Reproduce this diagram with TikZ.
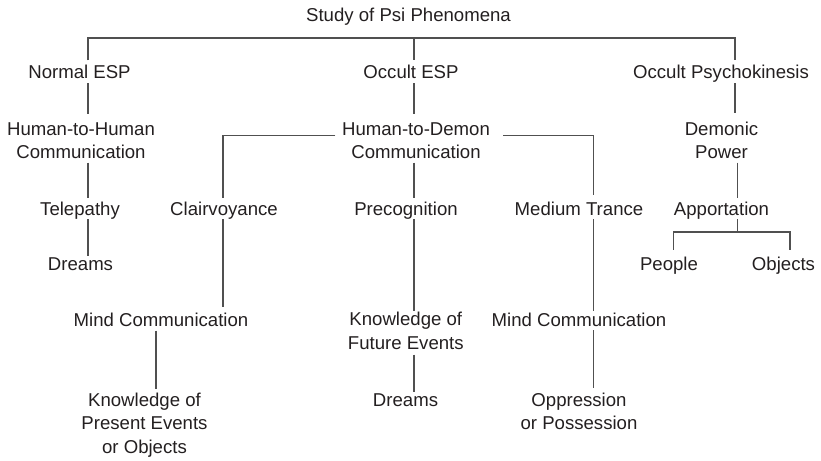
\documentclass[tikz,border=0pt]{standalone}
\usepackage{fontspec}
\setmainfont{Liberation Sans}
\usetikzlibrary{calc}
\definecolor{txt}{HTML}{231F20}
\definecolor{ln}{HTML}{505050}
\begin{document}
\begin{tikzpicture}[x=1pt,y=-1pt,
  lbl/.style={anchor=base, align=center, font=\fontsize{18.6}{23.5}\selectfont,
    text=txt, inner xsep=0pt, inner ysep=0pt, text depth=4pt},
  con/.style={draw=ln, line width=1.1pt}]
\useasboundingbox (0,0) rectangle (821,460);
% nodes (anchor = baseline of the last line)
\node[lbl] (title)   at (408.5,21.7) {Study of Psi Phenomena};
\node[lbl] (nesp)    at (79.5,78)    {Normal ESP};
\node[lbl] (oesp)    at (411,78)     {Occult ESP};
\node[lbl] (opk)     at (721,78)     {Occult Psychokinesis};
\node[lbl] (h2h)     at (81,158.5)   {Human-to-Human\\Communication};
\node[lbl] (h2d)     at (416,158.5)  {Human-to-Demon\\Communication};
\node[lbl] (dem)     at (721.5,158.5){Demonic\\Power};
\node[lbl] (tel)     at (80,215)     {Telepathy};
\node[lbl] (clair)   at (224,215)    {Clairvoyance};
\node[lbl] (precog)  at (406,215)    {Precognition};
\node[lbl] (medium)  at (579,215)    {Medium Trance};
\node[lbl] (app)     at (721.5,215)  {Apportation};
\node[lbl] (dreamsA) at (80.5,270)   {Dreams};
\node[lbl] (people)  at (669,270)    {People};
\node[lbl] (objects) at (783.5,270)  {Objects};
\node[lbl] (mindL)   at (161,326)    {Mind Communication};
\node[lbl] (kfut)    at (405.8,349.3){Knowledge of\\Future Events};
\node[lbl] (mindR)   at (579,326)    {Mind Communication};
\node[lbl] (kpres)   at (144.5,453)  {Knowledge of\\Present Events\\or Objects};
\node[lbl] (dreamsB) at (405.5,406)  {Dreams};
\node[lbl] (opp)     at (579,429.5)  {Oppression\\or Possession};
% column coordinates
\coordinate (xA) at (88,0);
\coordinate (xB) at (414,0);
\coordinate (xC) at (735,0);
\coordinate (xD) at (737.7,0);
\coordinate (xE) at (223,0);
\coordinate (xF) at (593.5,0);
\coordinate (xG) at (156,0);
\coordinate (xH) at (673.3,0);
\coordinate (xI) at (790,0);
\coordinate (tb) at ($(title.base)+(0,16.3)$);
\coordinate (lb) at ($(h2d.base -| h2d.west)+(-6.5,-23)$);
\coordinate (rb) at ($(h2d.base -| h2d.east)+(13,-23)$);
\coordinate (ab) at ($(app.base)+(0,17)$);
% connectors
\draw[con] ($(nesp.north -| xA)+(0,-4)$) -- (xA |- tb) -- (xC |- tb) -- ($(opk.north -| xC)+(0,-4)$);
\draw[con] (xB |- tb) -- ($(oesp.north -| xB)+(0,-4)$);
\draw[con] ($(nesp.south -| xA)+(0,1)$) -- ($(h2h.north -| xA)+(0,-8)$);
\draw[con] ($(oesp.south -| xB)+(0,1)$) -- ($(h2d.north -| xB)+(0,-8)$);
\draw[con] ($(opk.south -| xC)+(0,1)$) -- ($(dem.north -| xC)+(0,-8)$);
\draw[con] ($(h2h.south -| xA)+(0,0)$) -- ($(tel.north -| xA)+(0,-3)$);
\draw[con] (lb) -- (lb -| xE) -- ($(clair.north -| xE)+(0,-3)$);
\draw[con] (rb) -- (rb -| xF) -- ($(medium.north -| xF)+(0,-6)$);
\draw[con] ($(h2d.south -| xB)+(0,0)$) -- ($(precog.north -| xB)+(0,-3)$);
\draw[con] ($(dem.south -| xD)+(0,0)$) -- ($(app.north -| xD)+(0,-3)$);
\draw[con] ($(tel.south -| xA)+(0,0)$) -- ($(dreamsA.north -| xA)+(0,-1.5)$);
\draw[con] ($(clair.south -| xE)+(0,0)$) -- ($(mindL.north -| xE)+(0,-5.5)$);
\draw[con] ($(precog.south -| xB)+(0,0)$) -- ($(kfut.north -| xB)+(0,-1)$);
\draw[con] ($(medium.south -| xF)+(0,0)$) -- ($(mindR.north -| xF)+(0,-1)$);
\draw[con] ($(mindL.south -| xG)+(0,0.5)$) -- ($(kpres.north -| xG)+(0,-3)$);
\draw[con] ($(mindR.south -| xF)+(0,0)$) -- ($(opp.north -| xF)+(0,-4.5)$);
\draw[con] ($(kfut.south -| xB)+(0,1)$) -- ($(dreamsB.north -| xB)+(0,-1)$);
\draw[con] ($(app.south -| xD)+(0,0)$) -- (xD |- ab);
\draw[con] ($(people.north -| xH)+(0,-6.5)$) -- (xH |- ab) -- (xI |- ab) -- ($(objects.north -| xI)+(0,-6.5)$);
\end{tikzpicture}
\end{document}
